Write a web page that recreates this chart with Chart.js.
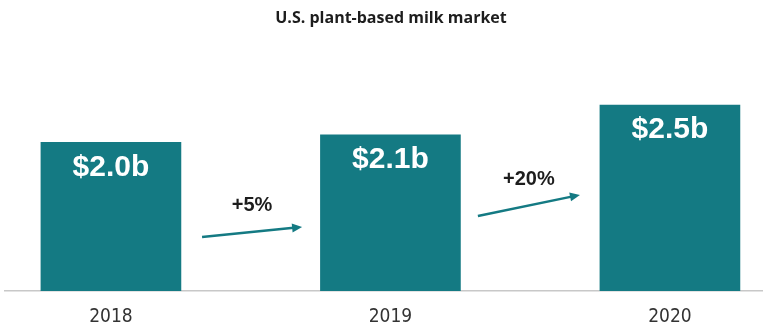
<!DOCTYPE html>
<html>
<head>
<meta charset="utf-8">
<script src="https://cdn.jsdelivr.net/npm/chart.js@4.4.1/dist/chart.umd.min.js"></script>
<style>
  html, body { margin: 0; padding: 0; background: #fff; }
  #wrap { width: 763px; height: 329px; }
</style>
</head>
<body>
<div id="wrap"><canvas id="milk"></canvas></div>
<script>
// U.S. plant-based milk market, $ billions
const YEARS  = ['2018', '2019', '2020'];
const VALUES = [2.0, 2.1, 2.5];
const GROWTH = ['+5%', '+20%'];
const TITLE  = 'U.S. plant-based milk market';

const TEAL  = '#147a83';
const INK   = '#1d1d1d';
const AXIS  = '#c8c8c8';

// heading, sitting a little right of the canvas centre
const heading = {
  id: 'heading',
  afterDraw(chart) {
    const { ctx } = chart;
    ctx.save();
    ctx.fillStyle = INK;
    ctx.font = "bold 16px 'Open Sans', sans-serif";
    ctx.textAlign = 'center';
    ctx.textBaseline = 'middle';
    ctx.fillText(TITLE, 391, 18);
    ctx.restore();
  }
};

// value labels inside the top of each bar
const barLabels = {
  id: 'barLabels',
  afterDatasetsDraw(chart) {
    const { ctx } = chart;
    const meta = chart.getDatasetMeta(0);
    ctx.save();
    ctx.fillStyle = '#fff';
    ctx.font = "bold 30px 'Liberation Sans', Arial, sans-serif";
    ctx.textAlign = 'center';
    ctx.textBaseline = 'middle';
    meta.data.forEach((bar, i) => {
      ctx.fillText('$' + VALUES[i].toFixed(1) + 'b', bar.x, bar.y + 25);
    });
    ctx.restore();
  }
};

// growth arrows between the bars
const growthArrows = {
  id: 'growthArrows',
  afterDatasetsDraw(chart) {
    const { ctx, scales: { x, y } } = chart;
    // arrow ends in axis units: [x0, y0, x1, y1]
    const ends = [[0.326, 0.727, 0.684, 0.861], [1.313, 1.009, 1.678, 1.292]];
    ctx.save();
    GROWTH.forEach((txt, i) => {
      const [a, b, c, d] = ends[i];
      const x0 = x.getPixelForValue(a), y0 = y.getPixelForValue(b);
      const x1 = x.getPixelForValue(c), y1 = y.getPixelForValue(d);
      const ang = Math.atan2(y1 - y0, x1 - x0);
      const cs = Math.cos(ang), sn = Math.sin(ang);
      ctx.strokeStyle = TEAL;
      ctx.fillStyle = TEAL;
      ctx.lineWidth = 2.5;
      ctx.beginPath();
      ctx.moveTo(x0, y0);
      ctx.lineTo(x1 - 6 * cs, y1 - 6 * sn);
      ctx.stroke();
      ctx.beginPath();
      ctx.moveTo(x1, y1);
      ctx.lineTo(x1 - 10 * cs + 4.5 * sn, y1 - 10 * sn - 4.5 * cs);
      ctx.lineTo(x1 - 10 * cs - 4.5 * sn, y1 - 10 * sn + 4.5 * cs);
      ctx.closePath();
      ctx.fill();

      ctx.fillStyle = INK;
      ctx.font = "bold 20px 'Liberation Sans', Arial, sans-serif";
      ctx.textAlign = 'center';
      ctx.textBaseline = 'middle';
      ctx.fillText(txt, (x0 + x1) / 2, (y0 + y1) / 2 - 26);
    });
    ctx.restore();
  }
};

new Chart(document.getElementById('milk'), {
  type: 'bar',
  data: {
    datasets: [{
      data: VALUES.map((v, i) => ({ x: i, y: v })),
      backgroundColor: TEAL,
      borderWidth: 0,
      barThickness: 140,
    }],
  },
  options: {
    responsive: true,
    maintainAspectRatio: false,
    animation: false,
    layout: { padding: { left: 5, right: 0, top: 53, bottom: 0 } },
    plugins: {
      legend: { display: false },
      tooltip: { enabled: false },
      title: { display: false },
    },
    scales: {
      x: {
        type: 'linear',
        offset: false,
        min: -0.379,
        max: 2.333,
        afterBuildTicks: s => { s.ticks = YEARS.map((_, i) => ({ value: i })); },
        afterFit: s => { s.height = 38; },
        ticks: {
          callback: v => YEARS[v] ?? '',
          color: '#333',
          padding: 15,
          maxRotation: 0,
          autoSkip: false,
          font: { family: "'Liberation Sans Narrow', 'DejaVu Sans Condensed', sans-serif", size: 19 },
        },
        grid: { display: false, drawTicks: false },
        border: { display: true, color: AXIS, width: 1.5 },
      },
      y: {
        display: false,
        min: 0,
        max: 3.2,
      },
    },
  },
  plugins: [barLabels, growthArrows, heading],
});
</script>
</body>
</html>
